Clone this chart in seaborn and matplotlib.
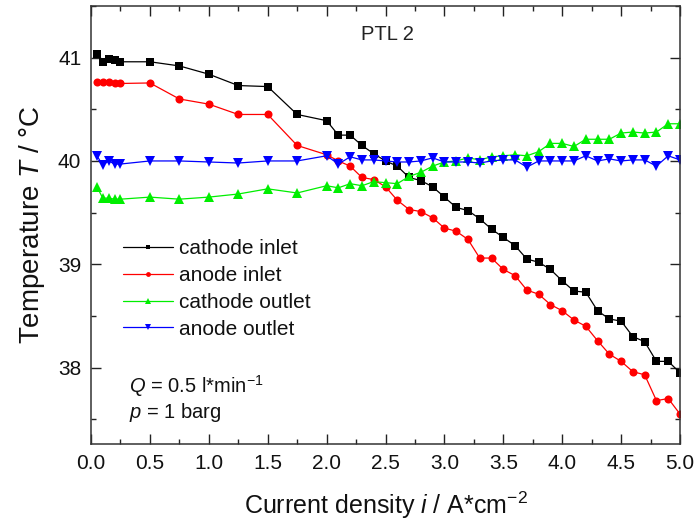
import numpy as np
import pandas as pd
import matplotlib
matplotlib.use("Agg")
import matplotlib.pyplot as plt
import seaborn as sns

current_density = [0.05, 0.1, 0.15, 0.2, 0.25, 0.5, 0.75, 1.0, 1.25, 1.5, 1.75, 2.0,
                   2.1, 2.2, 2.3, 2.4, 2.5, 2.6, 2.7, 2.8, 2.9, 3.0,
                   3.1, 3.2, 3.3, 3.4, 3.5, 3.6, 3.7, 3.8, 3.9, 4.0,
                   4.1, 4.2, 4.3, 4.4, 4.5, 4.6, 4.7, 4.8, 4.9, 5.0]

cathode_inlet = [41.04, 40.96, 40.99, 40.98, 40.96, 40.96, 40.92, 40.84, 40.73, 40.72, 40.45, 40.39,
                 40.25, 40.25, 40.15, 40.07, 40.00, 39.95, 39.84, 39.81, 39.75, 39.65,
                 39.55, 39.52, 39.44, 39.34, 39.26, 39.18, 39.05, 39.02, 38.95, 38.84,
                 38.74, 38.73, 38.55, 38.47, 38.45, 38.30, 38.25, 38.06, 38.06, 37.95]

anode_inlet = [40.76, 40.76, 40.76, 40.755, 40.75, 40.755, 40.60, 40.55, 40.45, 40.45, 40.15, 40.06,
               40.00, 39.95, 39.84, 39.82, 39.75, 39.62, 39.53, 39.51, 39.45, 39.35,
               39.32, 39.24, 39.06, 39.06, 38.95, 38.89, 38.75, 38.71, 38.61, 38.55,
               38.46, 38.40, 38.26, 38.13, 38.06, 37.96, 37.93, 37.68, 37.70, 37.55]

cathode_outlet = [39.75, 39.64, 39.64, 39.63, 39.63, 39.65, 39.63, 39.65, 39.68, 39.73, 39.69, 39.76,
                  39.74, 39.78, 39.76, 39.80, 39.79, 39.78, 39.85, 39.89, 39.95, 39.99,
                  40.00, 40.03, 40.01, 40.04, 40.05, 40.06, 40.05, 40.09, 40.17, 40.17,
                  40.14, 40.21, 40.21, 40.21, 40.27, 40.28, 40.27, 40.28, 40.36, 40.36]

anode_outlet = [40.05, 39.96, 40.00, 39.97, 39.97, 40.00, 40.00, 39.99, 39.98, 40.00, 40.00, 40.05,
                39.97, 40.04, 40.01, 40.01, 40.00, 39.99, 39.99, 40.00, 40.03, 39.99,
                39.99, 39.99, 39.98, 40.00, 40.01, 40.01, 39.94, 40.00, 40.00, 40.00,
                40.00, 40.05, 40.00, 40.02, 40.00, 40.01, 40.01, 39.95, 40.05, 40.01]

series_names = ["cathode inlet", "anode inlet", "cathode outlet", "anode outlet"]
series_values = [cathode_inlet, anode_inlet, cathode_outlet, anode_outlet]
colors = ["#000000", "#ff0000", "#00ee00", "#0000ff"]
markers = ["s", "o", "^", "v"]
marker_sizes = [5.2, 5.8, 6.5, 6.5]

df = pd.DataFrame({
    "i": np.tile(current_density, len(series_names)),
    "T": np.concatenate(series_values),
    "series": np.repeat(series_names, len(current_density)),
})

sns.set_theme(style="ticks")
plt.rcParams["font.family"] = ["Liberation Sans", "DejaVu Sans"]
plt.rcParams["mathtext.fontset"] = "custom"
plt.rcParams["mathtext.rm"] = "Liberation Sans"
plt.rcParams["mathtext.it"] = "Liberation Sans:italic"
plt.rcParams["mathtext.default"] = "regular"

fig = plt.figure(figsize=(6.99, 5.27), dpi=100)
ax = fig.add_axes([91 / 699, 1 - 444 / 527, (680 - 91) / 699, (444 - 6) / 527])

for name, col, mk, ms in zip(series_names, colors, markers, marker_sizes):
    sub = df[df["series"] == name]
    sns.lineplot(data=sub, x="i", y="T", ax=ax, color=col, marker=mk,
                 markersize=ms, markeredgewidth=0, linewidth=0.9,
                 label=name, sort=False, estimator=None)

ax.set_xlim(0, 5)
ax.set_ylim(37.26, 41.5)
ax.set_xticks(np.arange(0, 5.01, 0.5))
ax.set_xticks(np.arange(0, 5.01, 0.25), minor=True)
ax.set_yticks([38, 39, 40, 41])
ax.set_yticks(np.arange(37.5, 41.51, 0.5), minor=True)
ax.set_xticklabels([f"{v:.1f}" for v in np.arange(0, 5.01, 0.5)])

ax.tick_params(which="both", direction="in", top=True, right=True,
               colors="#222222", labelcolor="#111111", width=1)
ax.tick_params(which="major", length=7, labelsize=15, pad=7)
ax.tick_params(which="minor", length=3.5)
for sp in ax.spines.values():
    sp.set_visible(True)
    sp.set_color("#333333")
    sp.set_linewidth(1.1)

ax.set_xlabel("Current density $\\mathit{i}$ / A*cm$^{-2}$", fontsize=18, color="#111111", labelpad=12)
ax.set_ylabel("Temperature $\\mathit{T}$ / °C", fontsize=20, color="#111111", labelpad=8)

ax.text(0.504, 0.935, "PTL 2", transform=ax.transAxes, ha="center", va="center",
        fontsize=14.5, color="#222222")
fig.text(129 / 699, 1 - 386 / 527, "$\\mathit{Q}$ = 0.5 l*min$^{-1}$", fontsize=14.5,
         color="#111111", va="center", ha="left")
fig.text(129 / 699, 1 - 412 / 527, "$\\mathit{p}$ = 1 barg", fontsize=14.5,
         color="#111111", va="center", ha="left")

leg = ax.legend(loc="upper left", bbox_to_anchor=((123 - 91) / 589, (444 - 239) / 438),
                frameon=False, fontsize=15, handlelength=2.4, handletextpad=0.3,
                labelspacing=0.38, borderpad=0, borderaxespad=0, markerscale=0.6)
for txt in leg.get_texts():
    txt.set_color("#111111")

fig.savefig("out.png", dpi=100)
